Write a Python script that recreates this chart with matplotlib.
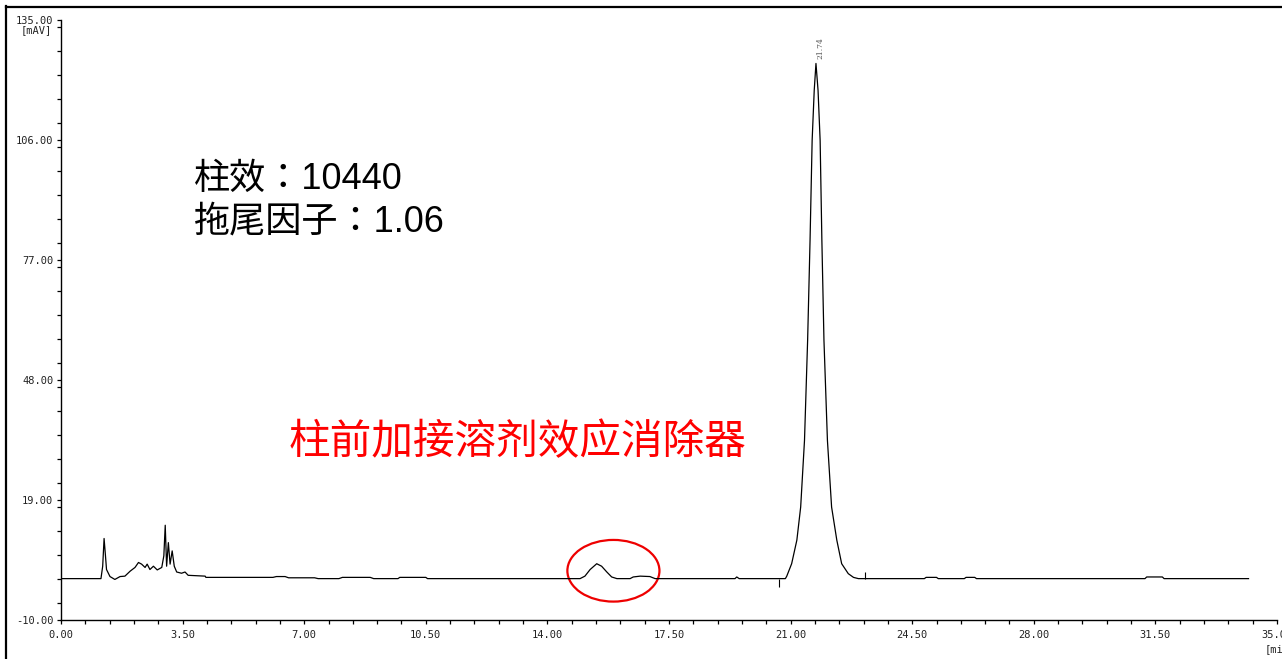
import matplotlib
matplotlib.use('Agg')
import matplotlib.pyplot as plt
from matplotlib.patches import Ellipse
from matplotlib.lines import Line2D
from matplotlib.ticker import MultipleLocator, FormatStrFormatter

plt.rcParams['font.family'] = ['Liberation Sans', 'Noto Sans CJK JP']

# ---- data ----
time_min = [0.00, 1.15, 1.20, 1.24, 1.28, 1.31, 1.41, 1.55, 1.70, 1.84, 1.99, 2.13, 2.23,
            2.32, 2.42, 2.48, 2.56, 2.66, 2.77, 2.90, 2.96, 3.00, 3.04, 3.09, 3.14, 3.20,
            3.26, 3.33, 3.47, 3.57, 3.66, 4.15, 4.17, 6.10, 6.20, 6.45, 6.55, 7.30, 7.40,
            8.00, 8.10, 8.90, 9.00, 9.70, 9.75, 10.50, 10.55, 14.94, 15.08, 15.23, 15.42,
            15.56, 15.71, 15.85, 16.00, 16.38, 16.47, 16.67, 16.95, 17.10, 19.40, 19.45,
            19.52, 20.85, 20.89, 21.03, 21.18, 21.29, 21.40, 21.49, 21.56, 21.62, 21.68,
            21.73, 21.79, 21.85, 21.90, 21.96, 22.06, 22.18, 22.33, 22.47, 22.66, 22.81,
            22.95, 24.85, 24.90, 25.20, 25.25, 26.00, 26.05, 26.30, 26.35, 31.20, 31.25,
            31.70, 31.75, 34.18]
signal_mau = [0.0, 0.0, 3.0, 9.7, 5.5, 2.2, 0.5, -0.2, 0.5, 0.6, 1.8, 2.7, 3.9,
              3.5, 2.7, 3.5, 2.2, 3.0, 2.1, 2.7, 5.5, 12.9, 3.0, 8.7, 3.5, 6.7,
              3.0, 1.6, 1.3, 1.6, 0.8, 0.6, 0.3, 0.3, 0.5, 0.5, 0.2, 0.2, 0.0,
              0.0, 0.3, 0.3, 0.0, 0.0, 0.3, 0.3, 0.0, 0.0, 0.6, 2.2, 3.6,
              3.0, 1.6, 0.4, 0.0, 0.0, 0.4, 0.6, 0.5, 0.0, 0.0, 0.4,
              0.0, 0.0, 0.6, 3.6, 9.3, 17.3, 33.4, 57.6, 81.8, 105.9, 118.0,
              124.5, 118.0, 105.9, 81.8, 57.6, 33.4, 17.3, 9.3, 3.6, 1.2, 0.3,
              0.0, 0.0, 0.3, 0.3, 0.0, 0.0, 0.3, 0.3, 0.0, 0.0, 0.4,
              0.4, 0.0, 0.0]

peak_rt = 21.73
peak_height = 124.5
peak_label = "21.74"

marker_times = [20.67, 23.14]
marker_ends = [-2.0, 1.7]

x_major = 3.5
x_minor = 0.7
y_ticks = [-10, 19, 48, 77, 106, 135]
y_minor = 5.8

efficiency_text = "柱效：10440"
tailing_text = "拖尾因子：1.06"
red_text = "柱前加接溶剂效应消除器"

circle_center = (15.90, 1.9)
circle_w = 2.65
circle_h = 14.9

# ---- figure ----
W, H = 1282, 659
fig = plt.figure(figsize=(W / 100, H / 100), dpi=100)
fig.patch.set_facecolor('white')

x0, x1, ytop, ybot = 61, 1277, 20, 620
ax = fig.add_axes([x0 / W, 1 - ybot / H, (x1 - x0) / W, (ybot - ytop) / H])

ax.plot(time_min, signal_mau, color='black', lw=0.9)
ax.vlines(marker_times, [0, 0], marker_ends, color='black', lw=0.8)

ax.set_xlim(0, 35)
ax.set_ylim(-10, 135)
for s in ['top', 'right']:
    ax.spines[s].set_visible(False)
for s in ['left', 'bottom']:
    ax.spines[s].set_linewidth(1.0)

ax.xaxis.set_major_locator(MultipleLocator(x_major))
ax.xaxis.set_minor_locator(MultipleLocator(x_minor))
ax.yaxis.set_major_locator(plt.FixedLocator(y_ticks))
ax.yaxis.set_minor_locator(MultipleLocator(y_minor))
ax.xaxis.set_major_formatter(FormatStrFormatter('%.2f'))
ax.yaxis.set_major_formatter(FormatStrFormatter('%.2f'))
ax.tick_params(which='both', direction='out', length=3, width=0.9)
ax.tick_params(axis='x', which='major', pad=4)
ax.tick_params(axis='y', which='major', pad=2.5)
for lbl in ax.get_xticklabels() + ax.get_yticklabels():
    lbl.set_fontfamily('DejaVu Sans Mono')
    lbl.set_fontsize(7.5)
    lbl.set_color('#222222')

fig.text(36 / W, 1 - 30 / H, '[mAV]', ha='center', va='center',
         fontfamily='DejaVu Sans Mono', fontsize=7.5, color='#222222')
fig.text(1265 / W, 1 - 649 / H, '[min]', ha='left', va='center',
         fontfamily='DejaVu Sans Mono', fontsize=7.5, color='#222222')

# peak label
ax.text(peak_rt + 0.12, peak_height + 1.0, peak_label, rotation=90, ha='center',
        va='bottom', fontsize=5.5, color='#555555', fontfamily='DejaVu Serif')

# annotations
fig.text(194 / W, 1 - 179 / H, efficiency_text, ha='left', va='center', fontsize=26,
         color='black')
fig.text(194 / W, 1 - 222 / H, tailing_text, ha='left', va='center', fontsize=26,
         color='black')
fig.text(518 / W, 1 - 443 / H, red_text, ha='center', va='center', fontsize=30,
         color='#ff0000', fontfamily=['Noto Sans CJK SC'], fontweight='light')

ax.add_patch(Ellipse(circle_center, circle_w, circle_h, fill=False, edgecolor='#ee0000',
                     lw=1.6, clip_on=False))

# outer frame (top and left)
fig.add_artist(Line2D([6 / W, 6 / W], [0, 1 - 6 / H], transform=fig.transFigure,
                      color='black', lw=1.6))
fig.add_artist(Line2D([6 / W, 1], [1 - 7 / H, 1 - 7 / H], transform=fig.transFigure,
                      color='black', lw=1.6))

fig.savefig('out.png', dpi=100)
